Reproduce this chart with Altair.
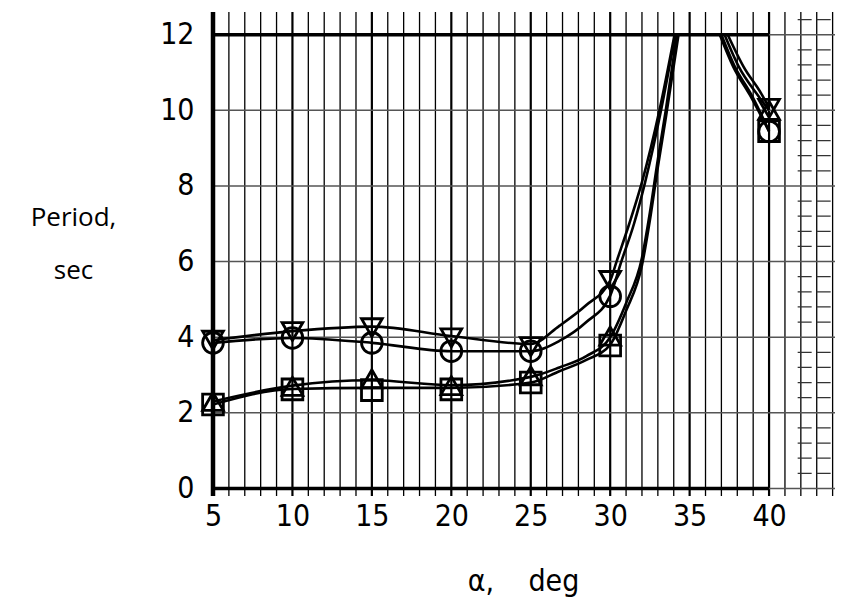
import altair as alt
import pandas as pd

# ---- marker data ----
alpha = [5, 10, 15, 20, 25, 30, 40]
circle_y = [3.85, 3.98, 3.85, 3.63, 3.63, 5.08, 9.44]
tri_down_y = [3.92, 4.15, 4.25, 3.98, 3.75, 5.50, 10.05]
tri_up_y = [2.30, 2.70, 2.90, 2.72, 2.98, 4.03, 10.00]
square_y = [2.22, 2.62, 2.60, 2.62, 2.80, 3.78, 9.45]

# ---- faired curves ----
circle_rise_x = [5, 10, 15, 20, 25, 26.8, 28.5, 30, 30.7, 31.5, 32.2, 33.2, 34.1]
circle_rise_y = [3.85, 3.98, 3.85, 3.63, 3.63, 3.9, 4.4, 5.1, 6.0, 7.0, 8.1, 10.0, 12.0]
circle_fall_x = [36.9, 37.75, 38.8, 40]
circle_fall_y = [12.0, 11.15, 10.4, 9.44]

tdown_rise_x = [5, 10, 15, 20, 25, 26.8, 28.5, 30, 30.4, 31.2, 32.0, 33.1, 34.05]
tdown_rise_y = [3.92, 4.16, 4.28, 4.03, 3.82, 4.3, 4.85, 5.5, 6.0, 7.0, 8.1, 10.0, 12.0]
tdown_fall_x = [37.4, 38.4, 39.5, 40]
tdown_fall_y = [12.0, 11.15, 10.45, 10.07]

tup_rise_x = [5, 10, 15, 20, 25, 26.8, 28.5, 30, 31, 32, 32.5, 33, 33.5, 34.2]
tup_rise_y = [2.3, 2.72, 2.86, 2.73, 2.95, 3.2, 3.5, 4.0, 4.9, 6.1, 7.3, 8.7, 10.0, 12.0]
tup_fall_x = [37.2, 38.1, 39.2, 40]
tup_fall_y = [12.0, 11.15, 10.45, 10.0]

sq_rise_x = [5, 10, 15, 20, 25, 26.8, 28.5, 30, 31, 32, 32.5, 33, 33.5, 34.3]
sq_rise_y = [2.22, 2.63, 2.66, 2.66, 2.8, 3.1, 3.4, 3.8, 4.7, 5.9, 7.1, 8.5, 9.8, 12.0]
sq_fall_x = [37.0, 37.85, 38.9, 40]
sq_fall_y = [12.0, 11.15, 10.4, 9.45]

series_names = ["circle", "tdown", "tup", "square"]
shapes = ["circle", "triangle-down", "triangle-up", "square"]

# ---- grid ----
x_ticks = [5, 10, 15, 20, 25, 30, 35, 40]
y_ticks = [0, 2, 4, 6, 8, 10, 12]
v_grid = list(range(5, 45))
minor_h = [round(0.4 * k, 1) for k in range(1, 32) if k % 5 != 0]

XMIN, XMAX = 5, 44.15
YMIN, YMAX = -0.2, 12.6

# ---- tables ----
pts = pd.DataFrame({
    "x": alpha * 4,
    "y": circle_y + tri_down_y + tri_up_y + square_y,
    "s": sum([[n] * len(alpha) for n in series_names], []),
})

rows = []
for name, segs in [
    ("circle", [(circle_rise_x, circle_rise_y), (circle_fall_x, circle_fall_y)]),
    ("tdown", [(tdown_rise_x, tdown_rise_y), (tdown_fall_x, tdown_fall_y)]),
    ("tup", [(tup_rise_x, tup_rise_y), (tup_fall_x, tup_fall_y)]),
    ("square", [(sq_rise_x, sq_rise_y), (sq_fall_x, sq_fall_y)]),
]:
    for i, (xs, ys) in enumerate(segs):
        for xv, yv in zip(xs, ys):
            rows.append({"x": xv, "y": yv, "k": f"{name}-{i}"})
curves = pd.DataFrame(rows)

vg = pd.DataFrame({"x": v_grid, "w": [2.2 if v % 5 == 0 else 1.3 for v in v_grid]})
hg = pd.DataFrame({"y": y_ticks})
thick = pd.DataFrame({"x": [5, 5], "x2": [40, 40], "y": [0, 12]})
minor = pd.DataFrame({"x": [41.8] * len(minor_h), "x2": [XMAX] * len(minor_h), "y": minor_h})

cond = "'Liberation Sans Narrow', 'DejaVu Sans Condensed', 'Roboto', sans-serif"
humanist = "'Open Sans', 'Lato', sans-serif"

xs_ = alt.Scale(domain=[XMIN, XMAX], nice=False, zero=False)
ys_ = alt.Scale(domain=[YMIN, YMAX], nice=False, zero=False)

x_axis = alt.Axis(
    values=x_ticks, title="\u03b1,\u00a0\u00a0\u00a0\u00a0deg", grid=False, ticks=False, domain=False,
    labelFont=cond, labelFontSize=30, labelColor="black", labelPadding=5, labelFlush=False,
    titleFont=cond, titleFontSize=30, titleColor="black", titleFontWeight="normal",
    titleX=310, titleY=94, titleBaseline="alphabetic", titleAlign="center",
)
y_axis = alt.Axis(
    values=y_ticks, title=["Period,", "sec"], grid=False, ticks=False, domain=False,
    labelFont=cond, labelFontSize=30, labelColor="black", labelPadding=19,
    titleFont=humanist, titleFontSize=26, titleColor="black", titleFontWeight="normal",
    titleAngle=0, titleX=-140, titleY=213, titleBaseline="alphabetic", titleAlign="center",
    titleLineHeight=53,
)

X = alt.X("x:Q", scale=xs_, axis=x_axis)
Y = alt.Y("y:Q", scale=ys_, axis=y_axis)

vgrid = alt.Chart(vg).mark_rule(color="black").encode(
    x=X, strokeWidth=alt.StrokeWidth("w:Q", scale=None)
)
hgrid = alt.Chart(hg).mark_rule(color="#555555", strokeWidth=1.4).encode(y=Y)
minor_l = alt.Chart(minor).mark_rule(color="#333333", strokeWidth=1.3, strokeDash=[14, 5]).encode(
    x=X, x2="x2:Q", y=Y
)
thick_l = alt.Chart(thick).mark_rule(color="black", strokeWidth=3.5).encode(x=X, x2="x2:Q", y=Y)
left_ax = alt.Chart(pd.DataFrame({"x": [5]})).mark_rule(color="black", strokeWidth=4.5).encode(x=X)

lines = alt.Chart(curves).mark_line(
    interpolate="monotone", color="black", strokeWidth=2.6
).encode(x=X, y=Y, detail="k:N")

marks = alt.Chart(pts).mark_point(
    filled=False, stroke="black", strokeWidth=2.8, size=430, opacity=1
).encode(
    x=X, y=Y,
    shape=alt.Shape("s:N", scale=alt.Scale(domain=series_names, range=shapes), legend=None),
)

chart = alt.layer(vgrid, hgrid, minor_l, thick_l, left_ax, lines, marks).properties(
    width=622, height=484,
    autosize=alt.AutoSizeParams(type="none"),
    padding={"left": 205, "top": 4, "right": 0, "bottom": 102},
    background="white",
).configure_view(strokeWidth=0)

chart.save("out.html", embed_options={"renderer": "svg", "actions": False})
